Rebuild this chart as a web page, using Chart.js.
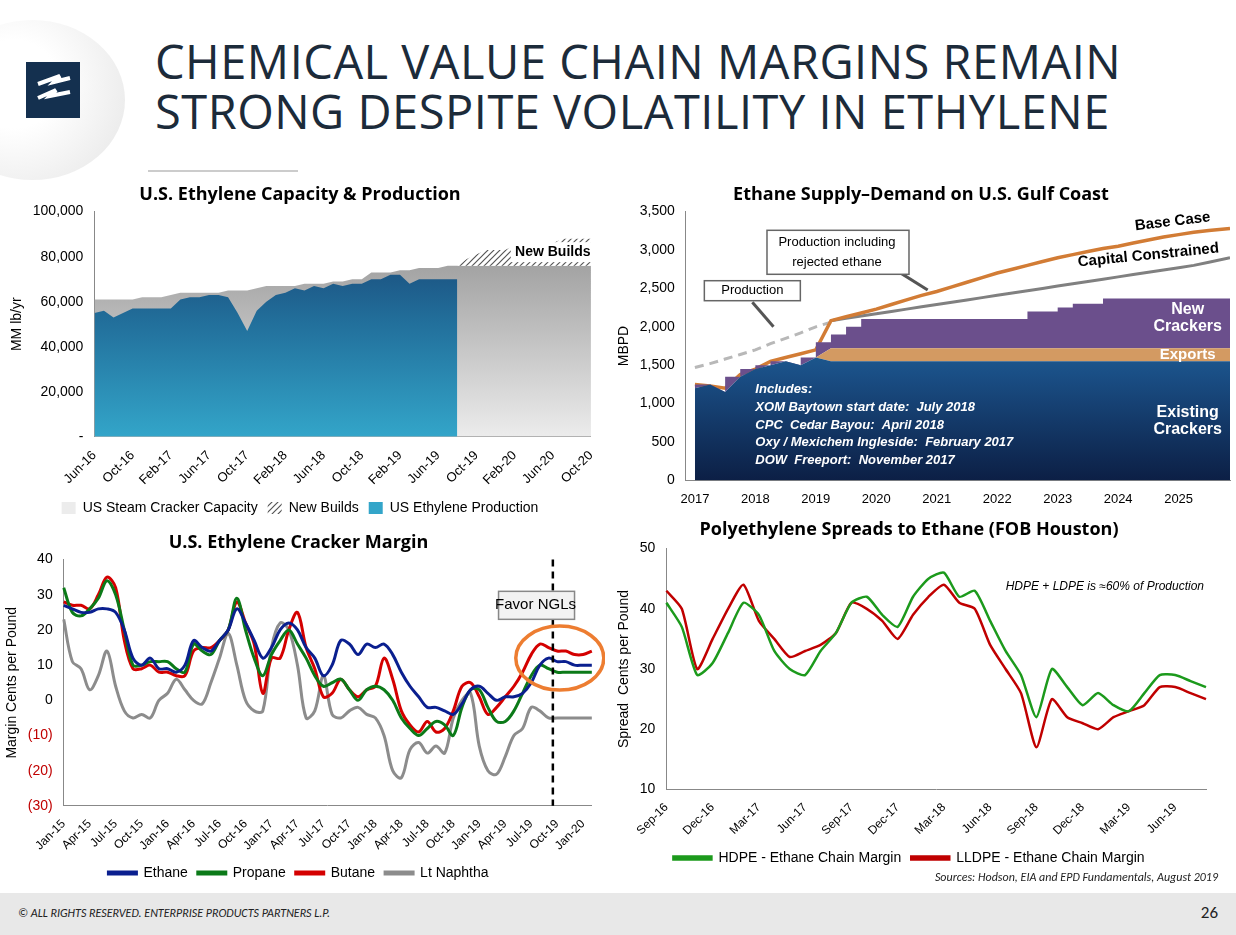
<!DOCTYPE html>
<html><head><meta charset="utf-8">
<script src="https://cdn.jsdelivr.net/npm/chart.js@4.4.1/dist/chart.umd.min.js"></script>
<style>
body{margin:0;width:1236px;height:935px;background:#fff;font-family:Calibri,'Liberation Sans',Arial,sans-serif;position:relative;overflow:hidden}
.box{position:absolute}
#title{position:absolute;left:155px;top:36px;font-size:47px;line-height:50px;color:#1c2b3a;letter-spacing:0.5px;font-family:'Open Sans','DejaVu Sans',sans-serif;font-weight:400}
#logoBg{position:absolute;left:-60px;top:20px;width:185px;height:160px;border-radius:50%;background:radial-gradient(circle at 40% 40%,#fff 30%,#e4e4e4 100%)}
#logo{position:absolute;left:26px;top:62px;width:54px;height:56px;background:#14304f}
#footer{position:absolute;left:0;top:893px;width:1236px;height:42px;background:#e8e8e8}
#footer span{position:absolute;top:13px;font-size:12px;font-style:italic;color:#222}
</style></head><body>
<div id="logoBg"></div>
<div id="logo"><svg width="54" height="56"><path d="M12 22 L34 14 L28 20 L44 16 M12 36 L30 28 L24 34 L44 30" stroke="#fff" stroke-width="4" fill="none"/></svg></div>
<div id="title">CHEMICAL VALUE CHAIN MARGINS REMAIN<br>STRONG DESPITE VOLATILITY IN ETHYLENE</div>
<div style="position:absolute;left:148px;top:170px;width:150px;height:2px;background:#ccc"></div>
<div class="box" style="left:0;top:180px;width:605px;height:345px"><canvas id="c1"></canvas></div>
<div class="box" style="left:612px;top:180px;width:624px;height:330px"><canvas id="c2"></canvas></div>
<div class="box" style="left:0;top:530px;width:605px;height:360px"><canvas id="c3"></canvas></div>
<div class="box" style="left:612px;top:515px;width:624px;height:360px"><canvas id="c4"></canvas></div>
<div style="position:absolute;right:18px;top:870px;font-size:12px;font-style:italic;color:#222">Sources:  Hodson,  EIA and EPD Fundamentals, August 2019</div>
<div id="footer"><span style="left:18px">© ALL RIGHTS RESERVED. ENTERPRISE PRODUCTS PARTNERS L.P.</span><span style="right:18px;font-style:normal;font-size:17px;top:9px">26</span></div>
<script>
// ---- chart 1: capacity & production (monthly Jun-16 .. Oct-20)
const months1 = [];
const mn = ['Jan','Feb','Mar','Apr','May','Jun','Jul','Aug','Sep','Oct','Nov','Dec'];
for (let i = 0; i < 53; i++) { const m = (5 + i) % 12, y = 16 + Math.floor((5 + i) / 12); months1.push(mn[m] + '-' + y); }
const capacity = [61,61,61,61,61,62,62,62,63,64,64,64,64,64,65,65,65,66,67,67,67,67,68,68,68,69,69,70,70,73,73,73,74,74,75,75,75,76,76,76,76,76,76,76,76,76,76,76,76,76,76,76,76].map(v => v * 1000);
const newBuildsTop = [null,null,null,null,null,null,null,null,null,null,null,null,null,null,null,null,null,null,null,null,null,null,null,null,null,null,null,null,null,null,null,null,null,null,null,null,null,null,76,79,81,83,83,83,85,85,85,86,86,88,88,88,88].map(v => v == null ? null : v * 1000);
const production = [55,56,53,55,57,57,57,57,57,61,62,62,63,63,62,55,47,56,60,63,64,66,65,67,66,68,67,68,68,70,70,72,72,68,70,70,70,70,70].map(v => v * 1000);

// ---- chart 2: ethane supply-demand (quarterly)
const years2 = [2017,2017.25,2017.5,2017.75,2018,2018.25,2018.5,2018.75,2019,2019.25,2019.5,2019.75,2020,2020.25,2020.5,2020.75,2021,2021.25,2021.5,2021.75,2022,2022.25,2022.5,2022.75,2023,2023.25,2023.5,2023.75,2024,2024.25,2024.5,2024.75,2025,2025.25,2025.5,2025.85];
const existing = [1200,1250,1150,1350,1450,1500,1550,1500,1600,1550,1550,1550,1550,1550,1550,1550,1550,1550,1550,1550,1550,1550,1550,1550,1550,1550,1550,1550,1550,1550,1550,1550,1550,1550,1550,1550];
const exportsTop = [1200,1250,1150,1350,1450,1500,1550,1500,1600,1720,1720,1720,1720,1720,1720,1720,1720,1720,1720,1720,1720,1720,1720,1720,1720,1720,1720,1720,1720,1720,1720,1720,1720,1720,1720,1720];
const crackersTop = [1200,1250,1150,1350,1450,1500,1550,1500,1600,1800,1900,2000,2100,2100,2100,2100,2100,2100,2100,2100,2100,2100,2100,2200,2200,2250,2300,2300,2370,2370,2370,2370,2370,2370,2370,2370];
const baseCase = [1250,1230,1200,1380,1450,1550,1600,1650,1700,2080,2130,2180,2230,2290,2350,2410,2460,2520,2580,2640,2700,2750,2800,2850,2900,2940,2980,3020,3050,3090,3130,3170,3200,3230,3255,3280];
const capConstrained = [null,null,null,null,null,null,null,null,null,2080,2110,2140,2170,2200,2230,2260,2290,2320,2350,2380,2410,2440,2470,2500,2530,2560,2590,2620,2650,2680,2710,2740,2770,2800,2840,2900];
const prodDashed = [1470,1520,1580,1640,1700,1780,1850,1920,2000,2060];

// ---- chart 3: cracker margin (monthly Jan-15 .. Feb-20)
const months3 = [];
for (let i = 0; i < 62; i++) months3.push(mn[i % 12] + '-' + (15 + Math.floor(i / 12)));
const ethane = [27,26,25,25,26,26,25,20,12,10,12,9,9,8,10,17,15,14,17,20,26,22,17,12,15,20,22,20,15,12,7,10,17,16,13,16,15,16,13,8,4,1,-2,-2,-3,-4,-1,3,4,2,0,1,1,2,5,10,12,11,11,10,10,10];
const propane = [32,25,24,26,29,34,30,20,10,10,11,11,11,9,8,16,14,13,17,20,29,20,12,7,13,17,20,16,12,7,4,5,6,3,0,3,4,3,0,-5,-8,-10,-8,-6,-7,-10,-2,3,3,-2,-6,-6,-3,2,7,10,9,8,8,8,8,8];
const butane = [28,27,27,26,30,35,32,17,9,9,10,8,8,7,7,14,15,15,17,20,28,22,16,2,12,12,20,25,15,9,1,2,6,3,1,3,4,12,6,-3,-7,-9,-6,-9,-8,-3,4,5,1,-4,-2,1,4,8,13,16,15,14,14,13,13,14];
const naphtha = [23,11,9,3,7,14,4,-3,-5,-4,-5,0,2,6,3,0,-1,5,12,19,10,0,-3,-3,15,22,20,10,-5,-3,7,-4,-5,-3,-2,-4,-5,-10,-20,-22,-14,-12,-15,-13,-15,-5,0,2,-13,-20,-21,-16,-10,-8,-2,-3,-5,-5,-5,-5,-5,-5];

// ---- chart 4: PE spreads (monthly Sep-16 .. Aug-19)
const months4 = [];
for (let i = 0; i < 36; i++) months4.push(mn[(8 + i) % 12] + '-' + (16 + Math.floor((8 + i) / 12)));
const hdpe = [41,37,29,31,36,41,39,33,30,29,33,36,41,42,39,37,42,45,46,42,43,38,33,29,22,30,27,24,26,24,23,26,29,29,28,27];
const lldpe = [43,40,30,35,40,44,38,35,32,33,34,36,41,40,38,35,39,42,44,41,40,34,30,26,17,25,22,21,20,22,23,24,27,27,26,25];

Chart.defaults.font.family = "'Liberation Sans', Arial, sans-serif";
Chart.defaults.font.size = 13;
Chart.defaults.color = '#000';
Chart.defaults.animation = false;

function vgrad(stops) {
    return (ctx) => {
        const a = ctx.chart.chartArea;
        if (!a) return null;
        const g = ctx.chart.ctx.createLinearGradient(0, a.top, 0, a.bottom);
        stops.forEach(s => g.addColorStop(s[0], s[1]));
        return g;
    };
}
function hatch() {
    const c = document.createElement('canvas'); c.width = 6; c.height = 6;
    const x = c.getContext('2d');
    x.fillStyle = '#fff'; x.fillRect(0, 0, 6, 6);
    x.strokeStyle = '#555'; x.lineWidth = 1.2;
    x.beginPath(); x.moveTo(0, 6); x.lineTo(6, 0); x.moveTo(-3, 3); x.lineTo(3, -3); x.moveTo(3, 9); x.lineTo(9, 3); x.stroke();
    return document.getElementById('c1').getContext('2d').createPattern(c, 'repeat');
}
// simple overlay drawing plugin
const overlay = (fn) => ({ id: 'ov', afterDatasetsDraw(chart) { const c = chart.ctx; c.save(); fn(chart, c); c.restore(); } });
function label(c, txt, x, y, opts = {}) {
    c.font = opts.font || "bold 14px 'Liberation Sans', Arial";
    c.fillStyle = opts.color || '#000';
    c.textAlign = opts.align || 'center';
    c.textBaseline = 'middle';
    if (opts.rot) { c.save(); c.translate(x, y); c.rotate(opts.rot); c.fillText(txt, 0, 0); c.restore(); }
    else c.fillText(txt, x, y);
}
function box(c, x, y, w, h, fill, stroke) {
    c.fillStyle = fill; c.fillRect(x, y, w, h);
    if (stroke) { c.strokeStyle = stroke; c.lineWidth = 1.5; c.strokeRect(x, y, w, h); }
}
const titleFont = { size: 18, weight: 'bold', family: "'Open Sans', Arial" };

new Chart(document.getElementById('c1'), {
    type: 'line',
    data: {
        labels: months1,
        datasets: [
            { label: 'US Steam Cracker Capacity', data: capacity, order: 2, fill: 'origin', borderWidth: 0, pointRadius: 0,
              backgroundColor: vgrad([[0, '#8c8c8c'], [1, '#ececec']]) },
            { label: 'New Builds', data: newBuildsTop, order: 1, fill: '-1', borderWidth: 0, pointRadius: 0, backgroundColor: hatch() },
            { label: 'US Ethylene Production', data: production, order: 0, fill: 'origin', borderWidth: 0, pointRadius: 0,
              backgroundColor: vgrad([[0, '#163a6b'], [0.5, '#22709c'], [1, '#33a5c9']]) }
        ]
    },
    options: {
        responsive: true, maintainAspectRatio: false,
        layout: { padding: { left: 5, right: 10 } },
        plugins: {
            title: { display: true, text: 'U.S. Ethylene Capacity & Production', font: titleFont, padding: { top: 4, bottom: 6 } },
            legend: { position: 'bottom', labels: { boxWidth: 14, boxHeight: 12, font: { size: 14 }, sort: (a, b) => a.datasetIndex - b.datasetIndex } },
            tooltip: { enabled: false }
        },
        scales: {
            x: { grid: { display: false }, border: { color: '#888' },
                 ticks: { autoSkip: false, maxRotation: 45, minRotation: 45, font: { size: 13 },
                          callback(v, i) { return i % 4 === 0 ? months1[i] : ''; } } },
            y: { min: 0, max: 100000, grid: { display: false }, border: { color: '#888' },
                 title: { display: true, text: 'MM lb/yr', font: { size: 14 } },
                 ticks: { stepSize: 20000, font: { size: 14 }, callback: v => v === 0 ? '-' : v.toLocaleString('en-US') } }
        }
    },
    plugins: [overlay((ch, c) => {
        const x = ch.scales.x.getPixelForValue(48), y = ch.scales.y.getPixelForValue(82000);
        box(c, x - 42, y - 10, 86, 20, '#fff');
        label(c, 'New Builds', x, y, { font: "bold 14px 'Liberation Sans', Arial" });
    })]
});

const pts = (ys) => ys.map((y, i) => ({ x: years2[i], y }));
new Chart(document.getElementById('c2'), {
    type: 'line',
    data: {
        datasets: [
            { label: 'Existing Crackers', data: pts(existing), fill: 'origin', borderWidth: 0, pointRadius: 0,
              backgroundColor: vgrad([[0, '#2e9bc4'], [0.6, '#1a4f86'], [1, '#0c1f45']]) },
            { label: 'Exports', data: pts(exportsTop), fill: '-1', borderWidth: 0, pointRadius: 0, backgroundColor: '#d39a62' },
            { label: 'New Crackers', data: pts(crackersTop), fill: '-1', borderWidth: 0, pointRadius: 0, stepped: 'after', backgroundColor: '#6b4f8c' },
            { label: 'Base Case', data: pts(baseCase), fill: false, borderColor: '#d27c35', borderWidth: 3.5, pointRadius: 0 },
            { label: 'Capital Constrained', data: pts(capConstrained), fill: false, borderColor: '#808080', borderWidth: 3, pointRadius: 0 },
            { label: 'Production', data: pts(prodDashed), fill: false, borderColor: '#b8b8b8', borderWidth: 3, borderDash: [9, 6], pointRadius: 0 }
        ]
    },
    options: {
        responsive: true, maintainAspectRatio: false,
        layout: { padding: { right: 6 } },
        plugins: {
            title: { display: true, text: 'Ethane Supply–Demand on U.S. Gulf Coast', font: titleFont, padding: { top: 4, bottom: 6 } },
            legend: { display: false }, tooltip: { enabled: false }
        },
        scales: {
            x: { type: 'linear', min: 2016.85, max: 2025.85, grid: { display: false }, border: { color: '#888' },
                 afterBuildTicks: s => { s.ticks = [2017,2018,2019,2020,2021,2022,2023,2024,2025].map(v => ({ value: v })); },
                 ticks: { font: { size: 13 }, callback: v => String(v) } },
            y: { min: 0, max: 3500, grid: { display: false }, border: { color: '#888' },
                 title: { display: true, text: 'MBPD', font: { size: 14 } },
                 ticks: { stepSize: 500, font: { size: 14 }, callback: v => v.toLocaleString('en-US') } }
        }
    },
    plugins: [overlay((ch, c) => {
        const X = v => ch.scales.x.getPixelForValue(v), Y = v => ch.scales.y.getPixelForValue(v);
        label(c, 'Base Case', X(2024.9), Y(3370), { font: "bold 15px 'Liberation Sans', Arial", rot: -0.12 });
        label(c, 'Capital Constrained', X(2024.5), Y(2930), { font: "bold 15px 'Liberation Sans', Arial", rot: -0.1 });
        label(c, 'New', X(2025.15), Y(2220), { color: '#fff', font: "bold 16px 'Liberation Sans', Arial" });
        label(c, 'Crackers', X(2025.15), Y(2000), { color: '#fff', font: "bold 16px 'Liberation Sans', Arial" });
        label(c, 'Exports', X(2025.15), Y(1640), { color: '#fff', font: "bold 15px 'Liberation Sans', Arial" });
        label(c, 'Existing', X(2025.15), Y(880), { color: '#fff', font: "bold 16px 'Liberation Sans', Arial" });
        label(c, 'Crackers', X(2025.15), Y(660), { color: '#fff', font: "bold 16px 'Liberation Sans', Arial" });
        const inc = ['Includes:', 'XOM Baytown start date:  July 2018', 'CPC  Cedar Bayou:  April 2018', 'Oxy / Mexichem Ingleside:  February 2017', 'DOW  Freeport:  November 2017'];
        inc.forEach((t, i) => label(c, t, X(2018), Y(1180 - i * 230), { color: '#fff', align: 'left', font: "italic bold 13px 'Liberation Sans', Arial" }));
        // callout arrows and boxes
        c.strokeStyle = '#555'; c.lineWidth = 3;
        c.beginPath(); c.moveTo(X(2020.2), Y(2800)); c.lineTo(X(2020.85), Y(2480)); c.stroke();
        c.beginPath(); c.moveTo(X(2017.95), Y(2320)); c.lineTo(X(2018.3), Y(2000)); c.stroke();
        let bx = X(2017.95), by = Y(2470);
        box(c, bx - 48, by - 10, 96, 20, '#fff', '#666');
        label(c, 'Production', bx, by, { font: "13px 'Liberation Sans', Arial" });
        bx = X(2019.35); by = Y(2970);
        box(c, bx - 70, by - 22, 142, 44, '#fff', '#666');
        label(c, 'Production including', bx, by - 10, { font: "13px 'Liberation Sans', Arial" });
        label(c, 'rejected ethane', bx, by + 10, { font: "13px 'Liberation Sans', Arial" });
    })]
});

const red = '#c00000';
new Chart(document.getElementById('c3'), {
    type: 'line',
    data: {
        labels: months3,
        datasets: [
            { label: 'Ethane', data: ethane, borderColor: '#0a1f8f', backgroundColor: '#0a1f8f', borderWidth: 3, pointRadius: 0, tension: 0.35 },
            { label: 'Propane', data: propane, borderColor: '#0b7a18', backgroundColor: '#0b7a18', borderWidth: 3, pointRadius: 0, tension: 0.35 },
            { label: 'Butane', data: butane, borderColor: '#d40000', backgroundColor: '#d40000', borderWidth: 3, pointRadius: 0, tension: 0.35 },
            { label: 'Lt Naphtha', data: naphtha, borderColor: '#8c8c8c', backgroundColor: '#8c8c8c', borderWidth: 3, pointRadius: 0, tension: 0.35 }
        ]
    },
    options: {
        responsive: true, maintainAspectRatio: false,
        layout: { padding: { right: 8 } },
        plugins: {
            title: { display: true, text: 'U.S. Ethylene Cracker Margin', font: titleFont, padding: { top: 2, bottom: 6 } },
            legend: { position: 'bottom', labels: { boxWidth: 28, boxHeight: 2, font: { size: 14 } } },
            tooltip: { enabled: false }
        },
        scales: {
            x: { grid: { display: false }, border: { color: '#888' },
                 ticks: { autoSkip: false, maxRotation: 45, minRotation: 45, font: { size: 12 },
                          callback(v, i) { return i % 3 === 0 ? months3[i] : ''; } } },
            y: { min: -30, max: 40, grid: { display: false }, border: { color: '#888' },
                 title: { display: true, text: 'Margin Cents per Pound', font: { size: 14 } },
                 ticks: { stepSize: 10, font: { size: 14 }, color: c => c.tick && c.tick.value < 0 ? red : '#000',
                          callback: v => v < 0 ? '(' + (-v) + ')' : String(v) } }
        }
    },
    plugins: [overlay((ch, c) => {
        const X = v => ch.scales.x.getPixelForValue(v), Y = v => ch.scales.y.getPixelForValue(v);
        c.strokeStyle = '#000'; c.lineWidth = 2.5; c.setLineDash([7, 5]);
        c.beginPath(); c.moveTo(X(56.5), ch.chartArea.top); c.lineTo(X(56.5), ch.chartArea.bottom); c.stroke();
        c.setLineDash([]);
        const bx = X(54.5), by = Y(27);
        box(c, bx - 37, by - 14, 76, 28, '#f2f2f2', '#888');
        label(c, 'Favor NGLs', bx, by, { font: "15px 'Liberation Sans', Arial" });
        c.strokeStyle = '#ed7d31'; c.lineWidth = 3.5;
        c.beginPath(); c.ellipse(X(57.3), Y(12), 44, 32, 0, 0, Math.PI * 2); c.stroke();
    })]
});

new Chart(document.getElementById('c4'), {
    type: 'line',
    data: {
        labels: months4,
        datasets: [
            { label: 'HDPE - Ethane Chain Margin', data: hdpe, borderColor: '#1c9a1c', backgroundColor: '#1c9a1c', borderWidth: 2.5, pointRadius: 0, tension: 0.2 },
            { label: 'LLDPE - Ethane Chain Margin', data: lldpe, borderColor: '#c00000', backgroundColor: '#c00000', borderWidth: 2.5, pointRadius: 0, tension: 0.2 }
        ]
    },
    options: {
        responsive: true, maintainAspectRatio: false,
        layout: { padding: { right: 30 } },
        plugins: {
            title: { display: true, text: 'Polyethylene Spreads to Ethane (FOB Houston)', font: titleFont, padding: { top: 4, bottom: 8 } },
            legend: { position: 'bottom', labels: { boxWidth: 38, boxHeight: 3, font: { size: 14 } } },
            tooltip: { enabled: false }
        },
        scales: {
            x: { grid: { display: false }, border: { color: '#888' },
                 ticks: { autoSkip: false, maxRotation: 45, minRotation: 45, font: { size: 12 },
                          callback(v, i) { return i % 3 === 0 ? months4[i] : ''; } } },
            y: { min: 10, max: 50, grid: { display: false }, border: { color: '#888' },
                 title: { display: true, text: 'Spread  Cents per Pound', font: { size: 14 } },
                 ticks: { stepSize: 10, font: { size: 14 } } }
        }
    },
    plugins: [overlay((ch, c) => {
        label(c, 'HDPE + LDPE is ≈60% of Production', ch.chartArea.right - 2, ch.chartArea.top + 38,
              { align: 'right', font: "italic 12px 'Liberation Sans', Arial" });
    })]
});
</script>
</body></html>
